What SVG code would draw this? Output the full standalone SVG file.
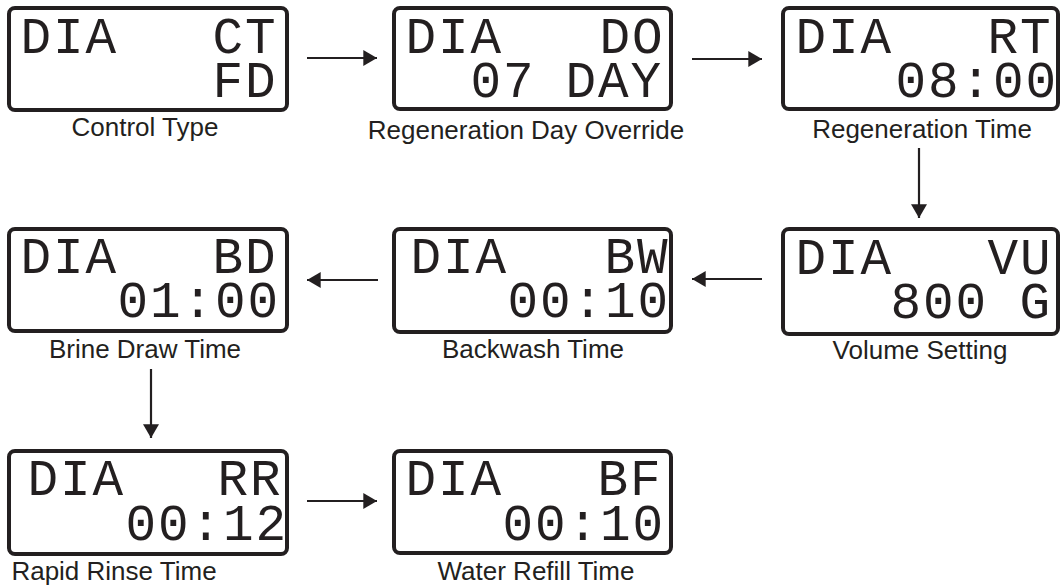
<svg xmlns="http://www.w3.org/2000/svg" width="1063" height="587" viewBox="0 0 1063 587">
<style>
.box{fill:#ffffff;stroke:#231f20;stroke-width:4}
.lcd{font-family:"Liberation Mono","DejaVu Sans Mono",monospace;font-size:51px;letter-spacing:1.9px;fill:#231f20}
.lbl{font-family:"Liberation Sans",Arial,sans-serif;font-size:26px;fill:#231f20;text-anchor:middle}
.arr{stroke:#231f20;stroke-width:2.2;fill:none;marker-end:url(#ah)}
</style>
<defs>
<marker id="ah" markerUnits="userSpaceOnUse" markerWidth="14" markerHeight="16" viewBox="0 0 12 14" refX="12" refY="7" orient="auto">
<path d="M0,0 L12,7 L0,14 Z" fill="#231f20"/>
</marker>
</defs>
<rect width="1063" height="587" fill="#ffffff"/>

<g id="connectors">
<line class="arr" x1="307" y1="58" x2="377" y2="58"/>
<line class="arr" x1="692" y1="59" x2="762" y2="59"/>
<line class="arr" x1="919" y1="148" x2="919" y2="218"/>
<line class="arr" x1="762" y1="279" x2="692" y2="279"/>
<line class="arr" x1="378" y1="280" x2="307" y2="280"/>
<line class="arr" x1="151" y1="369" x2="151" y2="438"/>
<line class="arr" x1="307" y1="501" x2="377" y2="501"/>
</g>

<g id="ct">
<rect class="box" x="9" y="8" width="278" height="102" rx="6"/>
<text class="lcd"><tspan x="20.5" y="53">DIA</tspan><tspan x="212.5" y="53">CT</tspan><tspan x="212.5" y="97">FD</tspan></text>
<text class="lbl" x="145" y="136">Control Type</text>
</g>

<g id="do">
<rect class="box" x="394" y="8" width="277" height="101" rx="6"/>
<text class="lcd"><tspan x="405.5" y="53">DIA</tspan><tspan x="599.5" y="53">DO</tspan><tspan x="470.5" y="97">07</tspan><tspan x="565.5" y="97">DAY</tspan></text>
<text class="lbl" x="526" y="139">Regeneration Day Override</text>
</g>

<g id="rt">
<rect class="box" x="783" y="8" width="275" height="101" rx="6"/>
<text class="lcd"><tspan x="795.5" y="53">DIA</tspan><tspan x="987.5" y="53">RT</tspan><tspan x="895.5" y="97">08:00</tspan></text>
<text class="lbl" x="922" y="138">Regeneration Time</text>
</g>

<g id="vu">
<rect class="box" x="783" y="229" width="275" height="105" rx="6"/>
<text class="lcd"><tspan x="795.5" y="274">DIA</tspan><tspan x="987.5" y="274">VU</tspan><tspan x="890.5" y="318">800</tspan><tspan x="1019.5" y="318">G</tspan></text>
<text class="lbl" x="920" y="359">Volume Setting</text>
</g>

<g id="bw">
<rect class="box" x="394" y="229" width="277" height="103" rx="6"/>
<text class="lcd"><tspan x="410.5" y="273">DIA</tspan><tspan x="604.5" y="273">BW</tspan><tspan x="507.5" y="317">00:10</tspan></text>
<text class="lbl" x="533" y="358">Backwash Time</text>
</g>

<g id="bd">
<rect class="box" x="9" y="229" width="278" height="102" rx="6"/>
<text class="lcd"><tspan x="20.5" y="273">DIA</tspan><tspan x="212.5" y="273">BD</tspan><tspan x="117.5" y="317">01:00</tspan></text>
<text class="lbl" x="145" y="358">Brine Draw Time</text>
</g>

<g id="rr">
<rect class="box" x="9" y="451" width="278" height="103" rx="6"/>
<text class="lcd"><tspan x="27.5" y="495">DIA</tspan><tspan x="217.5" y="495">RR</tspan><tspan x="125.5" y="540">00:12</tspan></text>
<text class="lbl" x="114" y="580">Rapid Rinse Time</text>
</g>

<g id="bf">
<rect class="box" x="394" y="451" width="277" height="102" rx="6"/>
<text class="lcd"><tspan x="405.5" y="495">DIA</tspan><tspan x="597.5" y="495">BF</tspan><tspan x="502.5" y="540">00:10</tspan></text>
<text class="lbl" x="536" y="580">Water Refill Time</text>
</g>
</svg>
